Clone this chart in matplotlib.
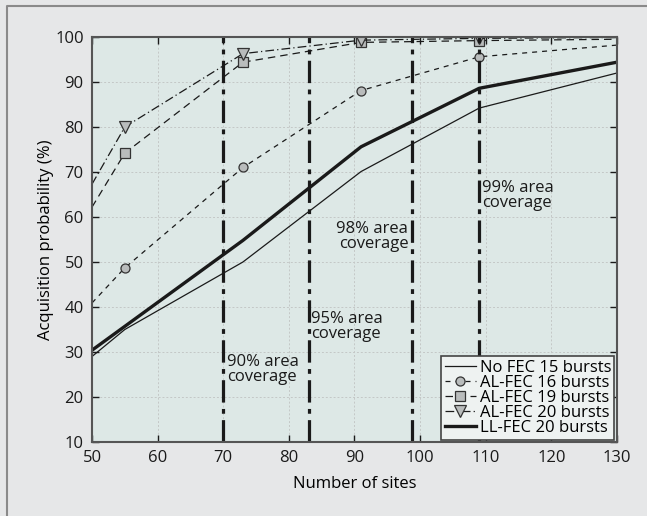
import matplotlib
matplotlib.use("Agg")
import matplotlib.pyplot as plt
from matplotlib.lines import Line2D

plt.rcParams["font.family"] = ["Open Sans", "DejaVu Sans"]
plt.rcParams["font.size"] = 12

# data
sites = [50, 55, 73, 91, 109, 130]
no_fec_15 = [29.0, 35.0, 50.0, 70.1, 84.2, 92.0]
al_fec_16 = [40.9, 48.7, 71.0, 88.1, 95.6, 98.2]
al_fec_19 = [62.2, 74.2, 94.4, 98.8, 99.2, 99.5]
al_fec_20 = [67.3, 80.0, 96.3, 99.3, 99.7, 99.9]
ll_fec_20 = [30.4, 35.7, 54.8, 75.6, 88.6, 94.4]

coverage_sites = [70, 83, 98.8, 109]
coverage_labels = ["90% area\ncoverage", "95% area\ncoverage",
                   "98% area\ncoverage", "99% area\ncoverage"]
label_pos = [(70.6, 29.6, "left"), (83.4, 39.2, "left"),
             (98.2, 59.2, "right"), (109.5, 68.3, "left")]

fig = plt.figure(figsize=(6.47, 5.16), dpi=100)
fig.patch.set_facecolor("#e6e7e8")
ax = fig.add_axes([0.1422, 0.1434, 0.8114, 0.7849])
ax.set_facecolor("#dde8e6")

# outer frame (top and left only visible)
fig.add_artist(Line2D([7 / 647, 7 / 647, 1.0], [0.0, 1 - 6 / 516, 1 - 6 / 516],
                      transform=fig.transFigure, color="#8a8a8a", lw=1.5))

ax.grid(True, color="#c4c8c7", linestyle=(0, (2, 2)), linewidth=0.7)
ax.set_axisbelow(True)

mk = dict(markerfacecolor="#b9bcbc", markeredgecolor="#333333", markeredgewidth=0.9)

ax.plot(sites, no_fec_15, color="#1a1a1a", lw=0.9, label="No FEC 15 bursts")
ax.plot(sites, al_fec_16, color="#1a1a1a", lw=0.9, linestyle=(0, (4, 4)),
        marker="o", markersize=6.5, markevery=[1, 2, 3, 4], label="AL-FEC 16 bursts", **mk)
ax.plot(sites, al_fec_19, color="#1a1a1a", lw=0.9, linestyle=(0, (6, 4)),
        marker="s", markersize=7.5, markevery=[1, 2, 3, 4], label="AL-FEC 19 bursts", **mk)
ax.plot(sites, al_fec_20, color="#1a1a1a", lw=0.9, linestyle=(0, (7, 2.5, 1, 2.5)),
        marker="v", markersize=8.5, markevery=[1, 2, 3, 4], label="AL-FEC 20 bursts", **mk)
ax.plot(sites, ll_fec_20, color="#1a1a1a", lw=2.4, label="LL-FEC 20 bursts")

for xv in coverage_sites:
    ax.axvline(xv, color="#1a1a1a", lw=2.3, linestyle=(0, (7, 2, 1.5, 2)))

for txt, (tx, ty, ha) in zip(coverage_labels, label_pos):
    ax.text(tx, ty, txt, ha=ha, va="top", fontsize=12, color="#1a1a1a",
            linespacing=0.95)

ax.set_xlim(50, 130)
ax.set_ylim(10, 100)
ax.set_xticks(range(50, 131, 10))
ax.set_yticks(range(10, 101, 10))
ax.tick_params(direction="in", length=5, width=1, top=True, right=True,
               labelsize=12, colors="#1a1a1a")
ax.tick_params(axis="x", pad=6)
ax.tick_params(axis="y", pad=6)
for s in ax.spines.values():
    s.set_color("#555555")
    s.set_linewidth(1.5)

ax.set_xlabel("Number of sites", fontsize=12, labelpad=7)
ax.set_ylabel("Acquisition probability (%)", fontsize=12, labelpad=1)

leg = ax.legend(loc="lower right", fontsize=12, handlelength=1.9, handletextpad=0.2,
                borderpad=0.2, labelspacing=-0.05, borderaxespad=0.15,
                fancybox=False, framealpha=1, facecolor="#eef2f1", edgecolor="#444444")
leg.get_frame().set_linewidth(1.2)

fig.savefig("out.png", dpi=100, facecolor=fig.get_facecolor())
